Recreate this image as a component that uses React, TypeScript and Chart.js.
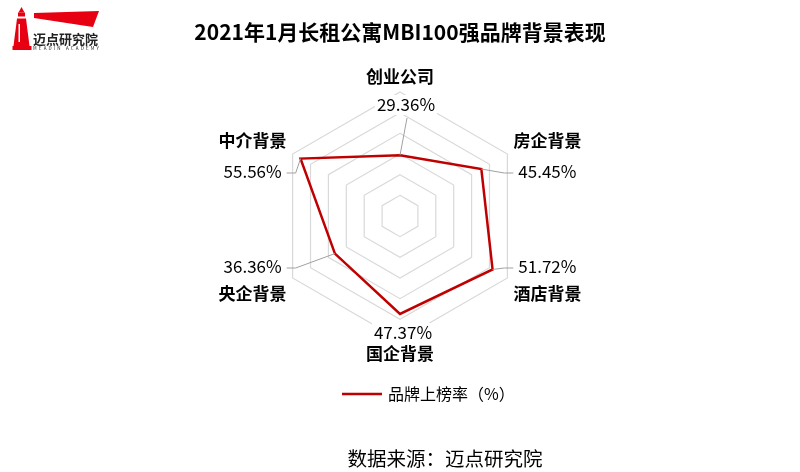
import React, { useEffect, useRef } from 'react';
import { Chart, registerables } from 'chart.js';

Chart.register(...registerables);

const FONT = '"Noto Sans CJK SC", "Noto Sans", sans-serif';

const titleText = '2021年1月长租公寓MBI100强品牌背景表现';
const categories = ['创业公司', '房企背景', '酒店背景', '国企背景', '央企背景', '中介背景'];
const rates = [29.36, 45.45, 51.72, 47.37, 36.36, 55.56];
const seriesName = '品牌上榜率（%）';
const axisMax = 60;
const axisStep = 10;
const sourceText = '数据来源：迈点研究院';
const logoName = '迈点研究院';
const logoSub = 'MEADIN ACADEMY';

const RED = '#C00000';

const radarLabels = {
  id: 'radarLabels',
  afterDatasetsDraw(chart: any) {
    const ctx = chart.ctx as CanvasRenderingContext2D;
    const scale = chart.scales.r;
    const meta = chart.getDatasetMeta(0);
    const R = scale.drawingArea;
    ctx.save();
    categories.forEach((cat, i) => {
      const pt = meta.data[i];
      const v = scale.getPointPosition(i, R);
      const dx = v.x - scale.xCenter;
      const dy = v.y - scale.yCenter;
      const text = rates[i].toFixed(2) + '%';
      ctx.font = `17px ${FONT}`;
      const tw = ctx.measureText(text).width;
      let valX: number, valY: number, nameX: number, nameY: number;
      let anchor: any = null;
      let elbow: any = null;
      if (Math.abs(dx) < 1) {
        if (dy < 0) {
          valX = v.x + 6; valY = v.y + 13; nameX = v.x; nameY = v.y - 15;
          anchor = { x: valX + 1, y: valY + 13 };
        } else {
          valX = v.x + 3; valY = v.y - 7; nameX = v.x; nameY = v.y + 14;
        }
      } else {
        const dir = dx > 0 ? 1 : -1;
        valX = v.x + dir * 40;
        nameX = valX;
        if (dy < 0) { valY = v.y + 18; nameY = v.y - 13; } else { valY = v.y - 11; nameY = v.y + 16; }
        const ax = valX - dir * (tw / 2 + 5);
        anchor = { x: ax, y: valY + 1 };
        elbow = { x: ax - dir * 9, y: valY + 1 };
      }
      if (anchor) {
        ctx.strokeStyle = '#a0a0a0';
        ctx.lineWidth = 1;
        ctx.beginPath();
        ctx.moveTo(pt.x, pt.y);
        if (elbow) ctx.lineTo(elbow.x, elbow.y);
        ctx.lineTo(anchor.x, anchor.y);
        ctx.stroke();
      }
      ctx.fillStyle = '#ffffff';
      ctx.fillRect(valX - tw / 2 - 2, valY - 10, tw + 4, 20);
      ctx.fillStyle = '#000000';
      ctx.textAlign = 'center';
      ctx.textBaseline = 'middle';
      ctx.fillText(text, valX, valY);
      ctx.font = `bold 17px ${FONT}`;
      ctx.fillText(cat, nameX, nameY);
    });
    ctx.restore();
  },
  afterDraw(chart: any) {
    const ctx = chart.ctx as CanvasRenderingContext2D;
    const scale = chart.scales.r;
    const area = chart.chartArea;
    ctx.save();
    // legend
    const ly = area.bottom + 53;
    const lx = scale.xCenter - 58;
    ctx.strokeStyle = RED;
    ctx.lineWidth = 2.5;
    ctx.beginPath();
    ctx.moveTo(lx, ly);
    ctx.lineTo(lx + 40, ly);
    ctx.stroke();
    ctx.fillStyle = '#000';
    ctx.font = `16px ${FONT}`;
    ctx.textAlign = 'left';
    ctx.textBaseline = 'middle';
    ctx.fillText(seriesName, lx + 46, ly);
    // source
    ctx.font = `19.5px ${FONT}`;
    ctx.textAlign = 'center';
    ctx.fillText(sourceText, scale.xCenter + 45, area.bottom + 118);
    // logo
    ctx.fillStyle = '#E60012';
    ctx.beginPath();
    ctx.moveTo(34, 13); ctx.lineTo(99, 11); ctx.lineTo(93, 27); ctx.lineTo(34, 18); ctx.closePath();
    ctx.fill();
    ctx.beginPath();
    ctx.moveTo(18.5, 12.5); ctx.lineTo(21.5, 7); ctx.lineTo(24.5, 12.5); ctx.closePath();
    ctx.fill();
    ctx.fillRect(18, 12.5, 7, 4);
    ctx.beginPath();
    ctx.moveTo(17, 18.5); ctx.lineTo(26, 18.5); ctx.lineTo(29.5, 46); ctx.lineTo(13.5, 46); ctx.closePath();
    ctx.fill();
    ctx.fillRect(12.5, 46, 19, 4);
    ctx.fillStyle = '#fff';
    ctx.fillRect(18.5, 24, 1.5, 18);
    ctx.fillStyle = '#222';
    ctx.font = `bold 13px ${FONT}`;
    ctx.textAlign = 'left';
    ctx.textBaseline = 'middle';
    ctx.fillText(logoName, 33, 39);
    ctx.font = `4.5px ${FONT}`;
    const w = ctx.measureText(logoSub).width;
    (ctx as any).letterSpacing = `${Math.max(0, (66 - w) / 13)}px`;
    ctx.fillText(logoSub, 33, 48.5);
    ctx.restore();
  },
};

export default function App() {
  const ref = useRef<HTMLCanvasElement | null>(null);
  useEffect(() => {
    if (!ref.current) return;
    const chart = new Chart(ref.current, {
      type: 'radar',
      data: {
        labels: categories,
        datasets: [
          {
            label: seriesName,
            data: rates,
            borderColor: RED,
            backgroundColor: 'transparent',
            borderWidth: 2.5,
            fill: false,
            pointRadius: 0,
            pointHoverRadius: 0,
          },
        ],
      },
      options: {
        animation: false,
        responsive: false,
        layout: { padding: { top: 0, bottom: 131, left: 0, right: 0 } },
        plugins: {
          legend: { display: false },
          tooltip: { enabled: false },
          title: {
            display: true,
            text: titleText,
            color: '#000',
            font: { family: FONT, size: 21, weight: 'bold' },
            padding: { top: 19, bottom: 48 },
          },
        },
        scales: {
          r: {
            min: 0,
            max: axisMax,
            beginAtZero: true,
            ticks: { display: false, stepSize: axisStep },
            grid: { color: '#d9d9d9', lineWidth: 1.2 },
            angleLines: { display: false },
            pointLabels: { display: false },
          },
        },
      },
      plugins: [radarLabels],
    } as any);
    return () => chart.destroy();
  }, []);
  return (
    <div style={{ position: 'absolute', left: 0, top: 0, width: 800, height: 472, background: '#fff' }}>
      <canvas ref={ref} width={800} height={472} style={{ display: 'block' }} />
    </div>
  );
}
